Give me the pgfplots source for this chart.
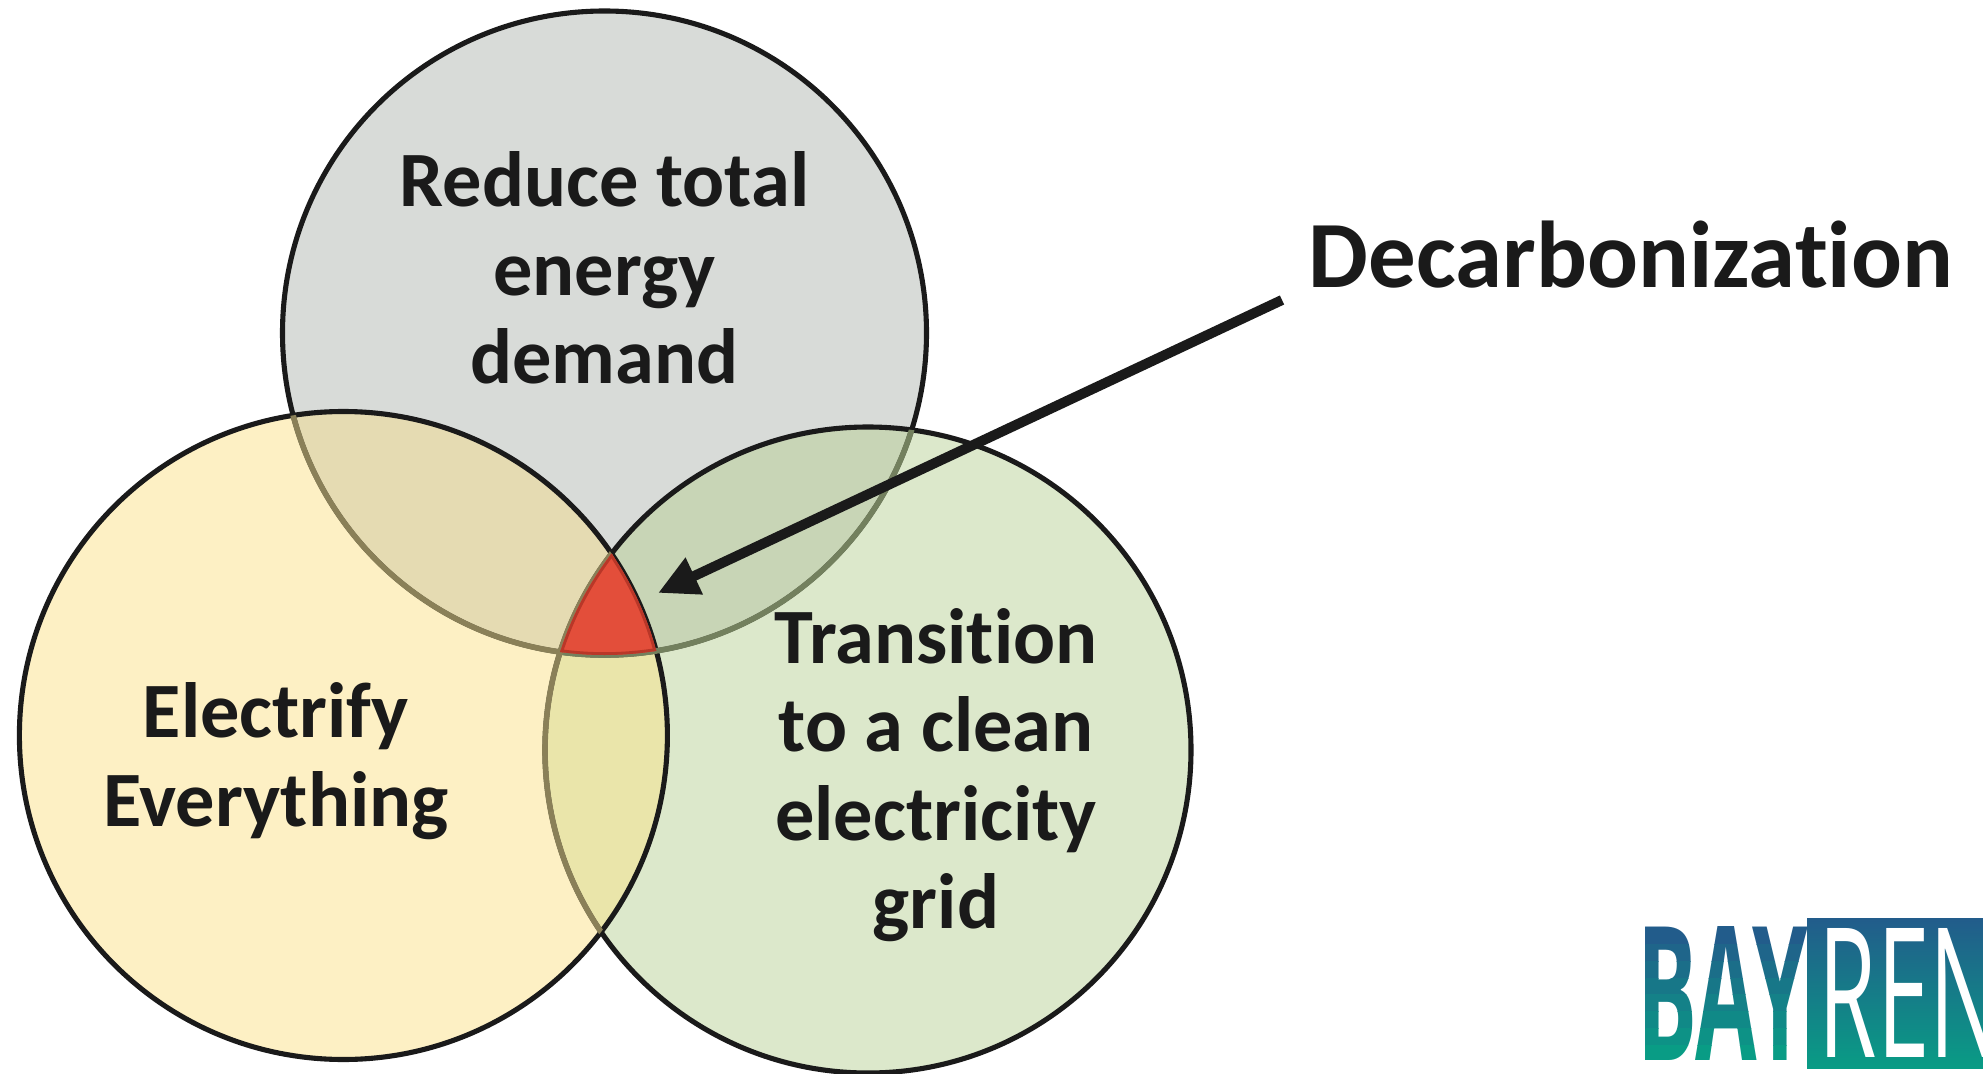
\documentclass[border=0pt]{standalone}
\usepackage{fontspec}
\setmainfont{Carlito}[Ligatures=NoCommon]
\newfontfamily\logofont{Open Sans}
\usepackage{graphicx}
\usepackage{pgfplots}
\pgfplotsset{compat=1.18}
\usetikzlibrary{arrows.meta}
\definecolor{greyC}{RGB}{216,219,216}
\definecolor{yellowC}{RGB}{253,240,196}
\definecolor{greenC}{RGB}{220,232,203}
\definecolor{gyC}{RGB}{229,219,178}
\definecolor{ggC}{RGB}{200,213,182}
\definecolor{ygC}{RGB}{234,229,170}
\definecolor{redC}{RGB}{227,78,58}
\definecolor{redB}{RGB}{185,55,40}
\definecolor{oliveA}{RGB}{138,128,88}
\definecolor{oliveB}{RGB}{115,128,94}
\definecolor{txt}{RGB}{26,26,26}
\definecolor{logoTop}{RGB}{34,92,139}
\definecolor{logoBot}{RGB}{9,156,133}
\newcommand{\baytext}{\resizebox{17mm}{13.4mm}{\logofont\bfseries BAY}}
\newcommand{\bayband}[3]{\begin{scope}\clip (axis cs:1630,#1) rectangle (axis cs:1806,#2); \node[anchor=south west,inner sep=0,text=logoTop!#3!logoBot] at (axis cs:1637,12) {\baytext}; \end{scope}}
\begin{document}
\begin{tikzpicture}
\begin{axis}[scale only axis, width=198.3mm, height=107.3mm,
  xmin=0, xmax=1983, ymin=0, ymax=1073, hide axis, clip=true]
% circle fills
\fill[greyC] (axis cs:604.5,740) circle[radius=322];
\fill[greenC] (axis cs:868,323) circle[radius=323];
\fill[yellowC] (axis cs:343.4,337.5) circle[radius=324];
\begin{scope}\clip (axis cs:604.5,740) circle[radius=322]; \fill[gyC] (axis cs:343.4,337.5) circle[radius=324];\end{scope}
\begin{scope}\clip (axis cs:604.5,740) circle[radius=322]; \fill[ggC] (axis cs:868,323) circle[radius=323];\end{scope}
\begin{scope}\clip (axis cs:343.4,337.5) circle[radius=324]; \fill[ygC] (axis cs:868,323) circle[radius=323];\end{scope}
% outlines
\draw[txt, line width=1.45pt] (axis cs:604.5,740) circle[radius=322];
\draw[txt, line width=1.45pt] (axis cs:868,323) circle[radius=323];
\draw[txt, line width=1.45pt] (axis cs:343.4,337.5) circle[radius=324];
\begin{scope}\clip (axis cs:343.4,337.5) circle[radius=324]; \draw[oliveA, line width=1.6pt] (axis cs:604.5,740) circle[radius=322];\end{scope}
\begin{scope}\clip (axis cs:868,323) circle[radius=323]; \draw[oliveB, line width=1.6pt] (axis cs:604.5,740) circle[radius=322];\end{scope}
\begin{scope}\clip (axis cs:343.4,337.5) circle[radius=324]; \draw[oliveA, line width=1.6pt] (axis cs:868,323) circle[radius=323];\end{scope}
% triple intersection
\begin{scope}\clip (axis cs:604.5,740) circle[radius=322]; \clip (axis cs:343.4,337.5) circle[radius=324]; \clip (axis cs:868,323) circle[radius=323];
  \fill[redC] (axis cs:868,323) circle[radius=323];
  \draw[redB, line width=1.6pt] (axis cs:868,323) circle[radius=323];
  \draw[redB, line width=1.6pt] (axis cs:343.4,337.5) circle[radius=324];
  \draw[redB, line width=1.6pt] (axis cs:604.5,740) circle[radius=322];
\end{scope}
% arrow
\draw[txt, line width=2.85pt, -{Triangle[length=11.4pt,width=10.8pt]}] (axis cs:1282,773) -- (axis cs:658,480);
% texts
\node[font=\bfseries\fontsize{22.3}{25.2}\selectfont, align=center, text=txt, inner sep=0] at (axis cs:604.5,805) {Reduce total\\energy\\demand};
\node[font=\bfseries\fontsize{22.3}{25.2}\selectfont, align=center, text=txt, inner sep=0] at (axis cs:276,312) {Electrify\\Everything};
\node[font=\bfseries\fontsize{22.3}{25.2}\selectfont, align=center, text=txt, inner sep=0] at (axis cs:936,298) {Transition\\to a clean\\electricity\\grid};
\node[font=\bfseries\fontsize{27}{30}\selectfont, text=txt, inner sep=0] at (axis cs:1631,818) {Decarbonization};
% logo
\shade[top color=logoTop, bottom color=logoBot] (axis cs:1807,5) rectangle (axis cs:1983,155);
\begin{scope}\clip (axis cs:1800,0) rectangle (axis cs:1983,160);
\node[anchor=south west, inner sep=0, text=white] at (axis cs:1818,15) {\resizebox{18.2mm}{12.9mm}{\logofont REN}};
\end{scope}
\bayband{129}{150}{100}
\bayband{112}{129}{86}
\bayband{95}{112}{72}
\bayband{79}{95}{58}
\bayband{62}{79}{43}
\bayband{45}{62}{29}
\bayband{28}{45}{15}
\bayband{5}{28}{0}
\coordinate (bl) at (axis cs:0,0);
\coordinate (tr) at (axis cs:1983,1073);
\end{axis}
\pgfresetboundingbox
\path[use as bounding box] (bl) rectangle (tr);
\end{tikzpicture}
\end{document}
